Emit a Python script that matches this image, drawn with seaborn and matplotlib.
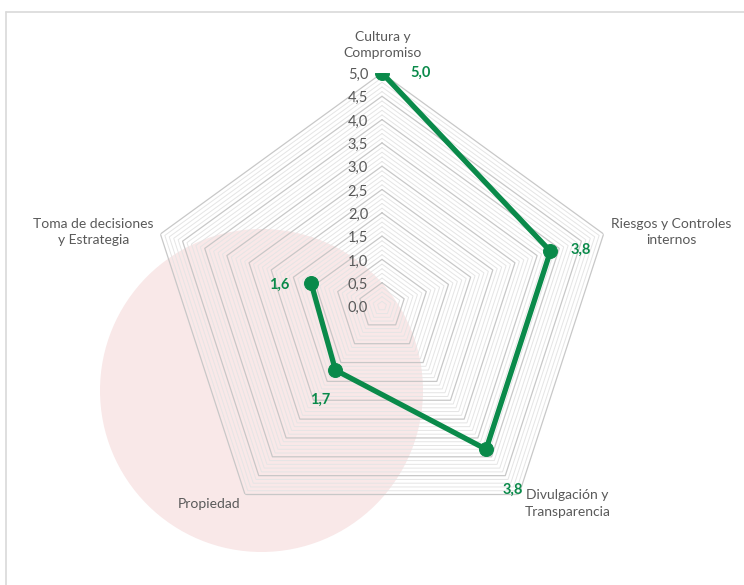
import numpy as np
import pandas as pd
import matplotlib
matplotlib.use("Agg")
import matplotlib.pyplot as plt
from matplotlib.patches import Ellipse
from matplotlib.lines import Line2D
import seaborn as sns

sns.set_theme(style="white")
plt.rcParams["font.family"] = ["Lato", "DejaVu Sans"]

# Dimensiones del gobierno corporativo (en sentido horario desde arriba)
categorias = [
    "Cultura y\nCompromiso",
    "Riesgos y Controles\ninternos",
    "Divulgación y\nTransparencia",
    "Propiedad",
    "Toma de decisiones\ny Estrategia",
]
puntajes = [5.0, 3.8, 3.8, 1.7, 1.6]
etiquetas_escala = ["0,0", "0,5", "1,0", "1,5", "2,0", "2,5", "3,0", "3,5", "4,0", "4,5", "5,0"]
valores_escala = [0.0, 0.5, 1.0, 1.5, 2.0, 2.5, 3.0, 3.5, 4.0, 4.5, 5.0]

VERDE = "#0a8a4a"
GRIS_TEXTO = "#595959"

n = len(categorias)
angulos = np.arange(n) * 2 * np.pi / n

df = pd.DataFrame({"angulo": angulos, "puntaje": puntajes})
df_cerrado = pd.concat([df, df.iloc[[0]]], ignore_index=True)

W, H = 744, 585
fig = plt.figure(figsize=(W / 100, H / 100), dpi=100)
fig.patch.set_facecolor("white")

# Circulo decorativo de fondo
cx, cy, rad = 261.5, 390.5, 161.5
fig.patches.append(Ellipse((cx / W, 1 - cy / H), 2 * rad / W, 2 * rad / H,
                           transform=fig.transFigure, facecolor="#f9e8e8",
                           edgecolor="none", zorder=-5))

# Marco del area del grafico
fig.lines.append(Line2D([6 / W, 1], [1 - 11.5 / H, 1 - 11.5 / H], transform=fig.transFigure,
                        color="#d9d9d9", lw=1.2, zorder=-4))
fig.lines.append(Line2D([6 / W, 6 / W], [0, 1 - 11.5 / H], transform=fig.transFigure,
                        color="#d9d9d9", lw=1.2, zorder=-4))

# Ejes polares: centro (382, 306), radio 233 px
ocx, ocy, R = 382, 306, 233
ax = fig.add_axes([(ocx - R) / W, (H - ocy - R) / H, 2 * R / W, 2 * R / H], projection="polar")
ax.set_zorder(2)
ax.set_facecolor("none")
ax.patch.set_alpha(0)
ax.set_theta_zero_location("N")
ax.set_theta_direction(-1)
ax.set_ylim(0, 5)
ax.grid(False)
ax.spines["polar"].set_visible(False)

# Reticula pentagonal: menor cada 0,1 y mayor cada 0,5
ang_cerrado = np.append(angulos, angulos[0])
for k in range(0, 51):
    nivel = k / 10
    mayor = k % 5 == 0
    ax.plot(ang_cerrado, np.full(n + 1, nivel),
            color="#c8c8c8" if mayor else "#e5e5e5",
            lw=0.9 if mayor else 0.7, zorder=1)

# Etiquetas de la escala
for v, t in zip(valores_escala, etiquetas_escala):
    ax.annotate(t, xy=(0, v), xytext=(-10, -1.5), textcoords="offset points",
                ha="right", va="center", fontsize=10.5, color=GRIS_TEXTO, zorder=2)

# Serie de puntajes
sns.lineplot(data=df_cerrado, x="angulo", y="puntaje", sort=False, ax=ax,
             color=VERDE, lw=3.8, marker="o", markersize=10,
             markeredgecolor=VERDE, legend=False, zorder=5)
ax.set_xlabel("")
ax.set_ylabel("")
ax.set_xticks([])
ax.set_yticks([])
ax.set_ylim(0, 5)

# Etiquetas de las categorias
desp_cat = [(0.7, 20), (49, 1.4), (35, -6.5), (-26, -6.5), (-48, 1.4)]
for a, c, d in zip(angulos, categorias, desp_cat):
    ax.annotate(c, xy=(a, 5), xytext=d, textcoords="offset points",
                ha="center", va="center", fontsize=10, color=GRIS_TEXTO,
                linespacing=1.45, annotation_clip=False)

# Etiquetas de valor
desp_val = [(28, 0), (21.6, 1.4), (19.4, -29.5), (-10.8, -21.6), (-23, -1.4)]
for a, v, d in zip(angulos, puntajes, desp_val):
    ax.annotate(f"{v:.1f}".replace(".", ","), xy=(a, v), xytext=d,
                textcoords="offset points", ha="center", va="center",
                fontsize=10.5, fontweight="bold", color=VERDE,
                annotation_clip=False, zorder=6)

fig.savefig("out.png", dpi=100)
